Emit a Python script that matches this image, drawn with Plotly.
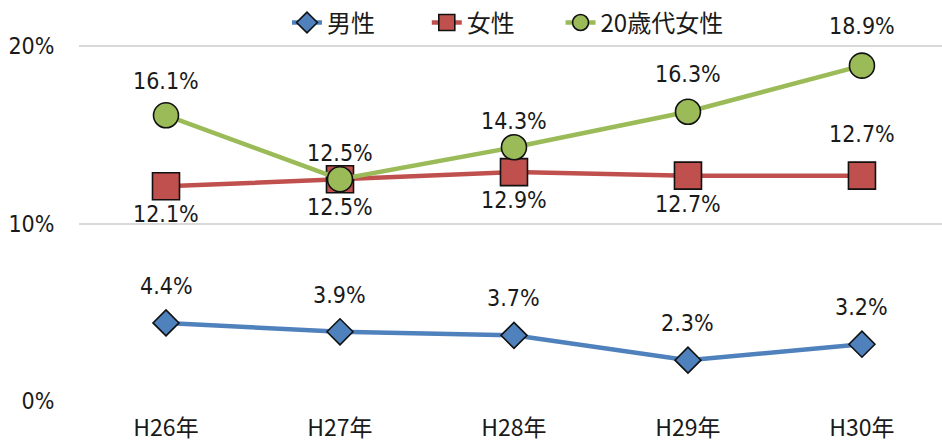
import plotly.graph_objects as go

years = ["H26年", "H27年", "H28年", "H29年", "H30年"]
men = [4.4, 3.9, 3.7, 2.3, 3.2]
women = [12.1, 12.5, 12.9, 12.7, 12.7]
women_20s = [16.1, 12.5, 14.3, 16.3, 18.9]

# vertical pixel offsets for the value labels of each series
men_shift = [37, 37, 37, 37, 37]
women_shift = [-28, -28, -28, -28, 42]
women_20s_shift = [34, 26, 26, 38, 40]

FONT = "'Liberation Sans Narrow', 'DejaVu Sans Condensed', 'Noto Sans CJK JP', sans-serif"
CJK = "'Liberation Sans Narrow', 'Noto Sans CJK JP', sans-serif"
TEXT = "#1a1a1a"
LABEL_FONT = dict(family=FONT, size=23, color=TEXT)

series = [
    ("男性", men, "#4F81BD", "diamond", 20, men_shift, "legend", 0.241),
    ("女性", women, "#C0504D", "square", 27, women_shift, "legend2", 0.403),
    ("20歳代女性", women_20s, "#9BBB59", "circle", 25, women_20s_shift, "legend3", 0.558),
]

fig = go.Figure()
annotations = []
legends = {}
for name, vals, color, symbol, size, shifts, leg, lx in series:
    fig.add_trace(go.Scatter(
        x=years, y=vals, name=name, mode="lines+markers",
        line=dict(color=color, width=4.5),
        marker=dict(symbol=symbol, size=size, color=color,
                    line=dict(color="#111111", width=1.6)),
        cliponaxis=False, legend=leg,
    ))
    legends[leg] = dict(
        x=lx, xanchor="left", y=0.95, yanchor="middle",
        bgcolor="rgba(0,0,0,0)", orientation="h",
        font=dict(family=CJK, size=24, color=TEXT),
    )
    for x, v, s in zip(years, vals, shifts):
        annotations.append(dict(
            x=x, y=v, text=f"{v:.1f}%", showarrow=False,
            yshift=s, font=LABEL_FONT,
        ))

fig.update_layout(
    width=942, height=445,
    margin=dict(l=79, r=0, t=0, b=44),
    paper_bgcolor="white", plot_bgcolor="white",
    font=dict(family=FONT, size=23, color=TEXT),
    showlegend=True,
    annotations=annotations,
    xaxis=dict(
        type="category", range=[-0.5, 4.46], automargin=False,
        showgrid=False, zeroline=False, showline=False,
        ticks="outside", ticklen=6, tickcolor="rgba(0,0,0,0)",
        tickfont=dict(family=CJK, size=23, color=TEXT),
    ),
    yaxis=dict(
        range=[0, 22.43], tickvals=[0, 10, 20], ticktext=["0%", "10%", "20%"],
        automargin=False,
        showgrid=True, gridcolor="#D9D9D9", gridwidth=2,
        zeroline=False, showline=False,
        ticks="outside", ticklen=19, tickcolor="rgba(0,0,0,0)",
        tickfont=dict(family=FONT, size=23, color=TEXT),
    ),
    **legends,
)

fig.write_html("out.html")
